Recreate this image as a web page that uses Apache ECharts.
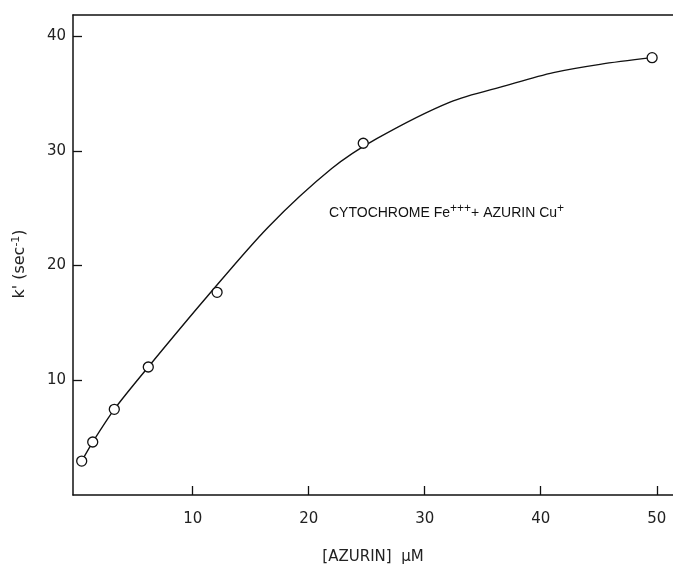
<!DOCTYPE html>
<html>
<head>
<meta charset="utf-8">
<script src="https://cdn.jsdelivr.net/npm/echarts@6/dist/echarts.min.js"></script>
<style>
html,body{margin:0;padding:0;background:#fff;}
#chart{width:673px;height:564px;}
</style>
</head>
<body>
<div id="chart"></div>
<script>
// Measured data points (open circles): [AZURIN] µM vs k' (sec^-1)
var azurinConc = [0.43, 1.38, 3.24, 6.17, 12.1, 24.7, 49.6];
var kPrime     = [2.96, 4.62, 7.47, 11.16, 17.67, 30.67, 38.13];
// Hand-drawn fitted curve
var curveX = [0.43, 1.38, 3.24, 6.17, 11.21, 16.52, 21.98, 25.86, 32.18, 37.07, 41.09, 45.11, 49.57];
var curveY = [2.96, 4.62, 7.47, 11.16, 17.26, 23.37, 28.46, 31.07, 34.26, 35.72, 36.83, 37.55, 38.13];
var xTicks = [10, 20, 30, 40, 50];
var yTicks = [10, 20, 30, 40];

var pts = azurinConc.map(function (x, i) { return [x, kPrime[i]]; });
var curve = curveX.map(function (x, i) { return [x, curveY[i]]; });

var FONT = 'DejaVu Sans';
var chart = echarts.init(document.getElementById('chart'), null, {renderer: 'canvas'});
chart.setOption({
  animation: false,
  backgroundColor: '#fff',
  grid: {left: 73, top: 15, width: 600, height: 480, containLabel: false, outerBoundsMode: 'none'},
  xAxis: [{
    type: 'value', min: -0.32, max: 51.4,
    axisLine: {show: true, onZero: false, lineStyle: {color: '#111', width: 1.5}},
    axisTick: {show: true, inside: true, length: 9, customValues: xTicks, lineStyle: {color: '#111', width: 1.3}},
    axisLabel: {show: true, customValues: xTicks, margin: 17, fontFamily: FONT, fontSize: 15, color: '#222'},
    splitLine: {show: false},
    name: '[AZURIN]  \u03bcM', nameLocation: 'middle', nameGap: 55,
    nameTextStyle: {fontFamily: FONT, fontSize: 15, color: '#222'}
  }, {
    type: 'value', position: 'top', min: -0.32, max: 51.4,
    axisLine: {show: true, onZero: false, lineStyle: {color: '#111', width: 1.5}},
    axisTick: {show: false}, axisLabel: {show: false}, splitLine: {show: false}
  }],
  yAxis: {
    type: 'value', min: 0, max: 41.85,
    axisLine: {show: true, onZero: false, lineStyle: {color: '#111', width: 1.5}},
    axisTick: {show: true, inside: true, length: 9, customValues: yTicks, lineStyle: {color: '#111', width: 1.3}},
    axisLabel: {show: true, customValues: yTicks, margin: 7, fontFamily: FONT, fontSize: 15, color: '#222'},
    splitLine: {show: false}
  },
  graphic: [{
    type: 'text', x: 20, y: 264, rotation: Math.PI / 2,
    style: {
      text: "{n|k' (sec}{s|-1}{n|)}",
      align: 'center', verticalAlign: 'middle',
      rich: {
        n: {fontFamily: FONT, fontSize: 16, fill: '#222', color: '#222'},
        s: {fontFamily: FONT, fontSize: 11, fill: '#222', color: '#222', padding: [0, 0, 7, 0]}
      }
    }
  }, {
    type: 'text', x: 329, y: 213,
    style: {
      text: '{n|CYTOCHROME Fe}{s|+++}{n|+ AZURIN Cu}{s|+}',
      align: 'left', verticalAlign: 'middle',
      rich: {
        n: {fontFamily: 'Liberation Sans', fontSize: 14, fill: '#111', color: '#111'},
        s: {fontFamily: 'Liberation Sans', fontSize: 12, fill: '#111', color: '#111', padding: [0, 0, 9, 0]}
      }
    }
  }],
  series: [{
    type: 'line', data: curve, smooth: 0.3, showSymbol: false, symbol: 'none',
    lineStyle: {color: '#111', width: 1.4}, z: 2
  }, {
    type: 'scatter', data: pts, symbol: 'circle', symbolSize: 10,
    itemStyle: {color: '#fff', borderColor: '#111', borderWidth: 1.3, opacity: 1}, z: 3
  }]
});
</script>
</body>
</html>
